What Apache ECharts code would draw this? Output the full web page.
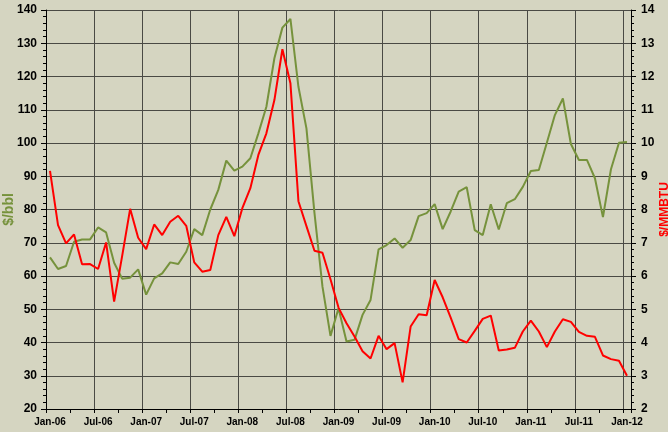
<!DOCTYPE html>
<html>
<head>
<meta charset="utf-8">
<script src="https://cdn.jsdelivr.net/npm/echarts@6/dist/echarts.min.js"></script>
<style>
  html, body { margin: 0; padding: 0; background: #d5d5c1; }
  #chart { width: 668px; height: 432px; }
</style>
</head>
<body>
<div id="chart"></div>
<script>
// Monthly values, Jan-06 .. Jan-12 (73 months)
var oilPrice = [
  65.6, 62.1, 63.0, 70.3, 71.0, 71.0, 74.6, 73.1, 64.0, 59.2, 59.5, 62.0,
  54.4, 59.3, 60.8, 64.1, 63.6, 67.3, 74.1, 72.3, 80.0, 85.9, 94.7, 91.7,
  92.9, 95.4, 102.9, 110.9, 125.5, 134.7, 137.3, 116.9, 104.4, 79.0, 56.8, 42.0,
  50.3, 40.3, 40.8, 48.3, 52.8, 68.0, 69.3, 71.3, 68.5, 70.8, 78.0, 78.9,
  81.6, 74.1, 79.4, 85.4, 86.7, 73.8, 72.3, 81.6, 74.0, 81.9, 83.1, 86.8,
  91.6, 91.9, 100.1, 108.4, 113.4, 99.7, 94.9, 94.9, 89.4, 77.7, 92.1, 100.1,
  100.3
];
var gasPrice = [
  9.16, 7.53, 6.98, 7.25, 6.35, 6.36, 6.21, 7.01, 5.23, 6.60, 8.02, 7.15,
  6.81, 7.55, 7.23, 7.63, 7.81, 7.51, 6.41, 6.13, 6.18, 7.23, 7.78, 7.20,
  8.04, 8.64, 9.64, 10.29, 11.29, 12.82, 11.80, 8.25, 7.50, 6.76, 6.70, 5.90,
  5.05, 4.58, 4.18, 3.74, 3.52, 4.20, 3.80, 3.98, 2.80, 4.48, 4.85, 4.82,
  5.88, 5.36, 4.75, 4.10, 4.00, 4.35, 4.71, 4.81, 3.76, 3.79, 3.84, 4.33,
  4.66, 4.33, 3.86, 4.33, 4.70, 4.62, 4.32, 4.20, 4.17, 3.61, 3.50, 3.45,
  3.00
];
// one label every 6 months, starting at Jan-06
var monthLabels = ['Jan-06', 'Jul-06', 'Jan-07', 'Jul-07', 'Jan-08', 'Jul-08', 'Jan-09',
  'Jul-09', 'Jan-10', 'Jul-10', 'Jan-11', 'Jul-11', 'Jan-12'];

// points sit mid-month
function toPoints(arr) {
  return arr.map(function (v, i) { return [i + 0.5, v]; });
}

var myChart = echarts.init(document.getElementById('chart'));

var font = 'Liberation Sans, Arial, sans-serif';
var gridColor = '#4a4a44';

var option = {
  backgroundColor: '#d5d5c1',
  animation: false,
  grid: { left: 46, right: 37, top: 10, bottom: 23, outerBoundsMode: 'none', containLabel: false },
  xAxis: {
    type: 'value',
    min: 0,
    max: 73,
    interval: 6,
    axisLine: { lineStyle: { color: '#000', width: 1 } },
    axisTick: { length: 4, lineStyle: { color: '#000' } },
    minorTick: { show: true, splitNumber: 2, length: 4, lineStyle: { color: '#000' } },
    splitLine: { lineStyle: { color: gridColor, width: 1 } },
    axisLabel: {
      margin: 8,
      padding: [0, 0, 0, 8],
      color: '#000',
      fontWeight: 'bold',
      fontSize: 10,
      fontFamily: font,
      formatter: function (v) {
        if (v % 6 !== 0) return '';
        return monthLabels[v / 6] || '';
      }
    }
  },
  yAxis: [
    {
      type: 'value',
      min: 20,
      max: 140,
      interval: 10,
      name: '$/bbl',
      nameLocation: 'middle',
      nameRotate: 90,
      nameGap: 30,
      nameMoveOverlap: false,
      nameTextStyle: { color: '#76923c', fontWeight: 'bold', fontSize: 14, fontFamily: font },
      axisLine: { show: true, lineStyle: { color: '#000', width: 1 } },
      axisTick: { show: true, length: 5, lineStyle: { color: '#000' } },
      minorTick: { show: true, splitNumber: 5, length: 3, lineStyle: { color: '#000' } },
      splitLine: { lineStyle: { color: gridColor, width: 1 } },
      axisLabel: { margin: 9, color: '#000', fontWeight: 'bold', fontSize: 12, fontFamily: font }
    },
    {
      type: 'value',
      min: 2,
      max: 14,
      interval: 1,
      position: 'right',
      name: '$/MMBTU',
      nameLocation: 'middle',
      nameRotate: 90,
      nameGap: 28,
      nameMoveOverlap: false,
      nameTextStyle: { color: '#ff0000', fontWeight: 'bold', fontSize: 12, fontFamily: font },
      axisLine: { show: true, lineStyle: { color: '#000', width: 1 } },
      axisTick: { show: true, length: 5, lineStyle: { color: '#000' } },
      minorTick: { show: true, splitNumber: 5, length: 3, lineStyle: { color: '#000' } },
      splitLine: { show: false },
      axisLabel: { margin: 10, color: '#000', fontWeight: 'bold', fontSize: 12, fontFamily: font }
    }
  ],
  series: [
    {
      name: 'Oil',
      type: 'line',
      yAxisIndex: 0,
      data: toPoints(oilPrice),
      showSymbol: false,
      lineStyle: { color: '#76923c', width: 2 },
      itemStyle: { color: '#76923c' }
    },
    {
      name: 'Gas',
      type: 'line',
      yAxisIndex: 1,
      data: toPoints(gasPrice),
      showSymbol: false,
      lineStyle: { color: '#ff0000', width: 2 },
      itemStyle: { color: '#ff0000' }
    }
  ]
};

myChart.setOption(option);
</script>
</body>
</html>
